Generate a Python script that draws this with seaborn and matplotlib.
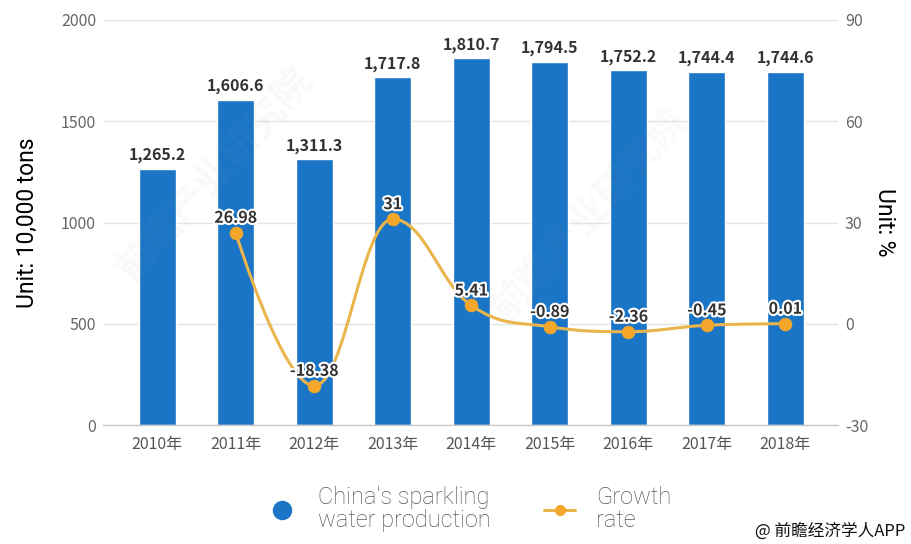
import matplotlib
matplotlib.use("Agg")
import matplotlib.pyplot as plt
from matplotlib.path import Path
from matplotlib.patches import PathPatch
from matplotlib.lines import Line2D
import matplotlib.patheffects as pe
import numpy as np
import pandas as pd
import seaborn as sns

# ---- data ----
years = ["2010年", "2011年", "2012年", "2013年", "2014年", "2015年", "2016年", "2017年", "2018年"]
production = [1265.2, 1606.6, 1311.3, 1717.8, 1810.7, 1794.5, 1752.2, 1744.4, 1744.6]
growth_years = ["2011年", "2012年", "2013年", "2014年", "2015年", "2016年", "2017年", "2018年"]
growth = [26.98, -18.38, 31, 5.41, -0.89, -2.36, -0.45, 0.01]
left_ticks = [0, 500, 1000, 1500, 2000]
right_ticks = [-30, 0, 30, 60, 90]

BAR_BLUE = "#1a75c6"
LINE_GOLD = "#eab54c"
MARK_ORANGE = "#f4a72a"
CJK = ["Noto Sans CJK SC", "DejaVu Sans"]
ROBOTO = ["Roboto", "DejaVu Sans"]

sns.set_theme(style="white")
plt.rcParams["font.family"] = CJK

fig = plt.figure(figsize=(9.12, 5.44), dpi=100)
ax = fig.add_axes([103 / 912, 119 / 544, 735 / 912, 405 / 544])

df = pd.DataFrame({"year": years, "production": production})
sns.barplot(data=df, x="year", y="production", color=BAR_BLUE, width=0.47,
            saturation=1, ax=ax, zorder=2)

ax.set_ylim(0, 2000)
ax.set_xlim(-0.69, 8.67)
ax.set_yticks(left_ticks)
ax.set_yticklabels([str(t) for t in left_ticks])
ax.yaxis.grid(True, color="#e4e4e4", linewidth=1.0, zorder=0)
ax.set_axisbelow(True)
for s in ("top", "left", "right"):
    ax.spines[s].set_visible(False)
ax.spines["bottom"].set_color("#c8c8c8")
ax.spines["bottom"].set_linewidth(1.0)
ax.tick_params(axis="x", colors="#c8c8c8", length=6, width=1, direction="out",
               labelcolor="#555555", labelsize=11.5, pad=2)
ax.tick_params(axis="y", length=0, labelcolor="#666666", labelsize=11.5, pad=5)
ax.set_xlabel("")
ax.set_ylabel("Unit: 10,000 tons", fontsize=16.5, color="#000000",
              family=ROBOTO, fontweight="normal", labelpad=16)

# value labels above bars
for i, v in enumerate(production):
    ax.annotate(f"{v:,.1f}", (i, v), xytext=(0, 4), textcoords="offset points",
                ha="center", va="bottom", fontsize=11.5, fontweight="bold",
                color="#333333", zorder=5)

# ---- growth rate on the secondary axis ----
ax2 = ax.twinx()
ax2.set_ylim(-30, 90)
ax2.set_yticks(right_ticks)
ax2.set_yticklabels([str(t) for t in right_ticks])
for s in ("top", "left", "right", "bottom"):
    ax2.spines[s].set_visible(False)
ax2.tick_params(axis="y", length=0, labelcolor="#666666", labelsize=11.5, pad=5)
ax2.set_ylabel("Unit: %", fontsize=16.5, color="#000000", rotation=270,
               family=ROBOTO, fontweight="normal", labelpad=20)

gx = [years.index(y) for y in growth_years]


def spline_path(xs, ys, smoothing=1.5):
    """Cubic Bezier path through the points with flattened extrema."""
    n = len(xs)
    left, right = [None] * n, [None] * n
    for i in range(n):
        x, y = xs[i], ys[i]
        if 0 < i < n - 1:
            lx, ly = xs[i - 1], ys[i - 1]
            nx, ny = xs[i + 1], ys[i + 1]
            d = smoothing + 1
            lcx, lcy = (smoothing * x + lx) / d, (smoothing * y + ly) / d
            rcx, rcy = (smoothing * x + nx) / d, (smoothing * y + ny) / d
            corr = ((rcy - lcy) * (rcx - x)) / (rcx - lcx) + y - rcy
            lcy += corr
            rcy += corr
            if lcy > ly and lcy > y:
                lcy = max(ly, y); rcy = 2 * y - lcy
            elif lcy < ly and lcy < y:
                lcy = min(ly, y); rcy = 2 * y - lcy
            if rcy > ny and rcy > y:
                rcy = max(ny, y); lcy = 2 * y - rcy
            elif rcy < ny and rcy < y:
                rcy = min(ny, y); lcy = 2 * y - rcy
            left[i], right[i] = (lcx, lcy), (rcx, rcy)
        else:
            left[i] = right[i] = (x, y)
    verts = [(xs[0], ys[0])]
    codes = [Path.MOVETO]
    for i in range(1, n):
        verts += [right[i - 1], left[i], (xs[i], ys[i])]
        codes += [Path.CURVE4] * 3
    return Path(verts, codes)


ax2.add_patch(PathPatch(spline_path(gx, growth), facecolor="none",
                        edgecolor=LINE_GOLD, linewidth=2.2, zorder=3))
gdf = pd.DataFrame({"x": gx, "growth": growth})
sns.scatterplot(data=gdf, x="x", y="growth", ax=ax2, color=MARK_ORANGE, s=85,
                edgecolor=MARK_ORANGE, linewidth=0.5, zorder=4, legend=False)
ax2.set_xlim(-0.69, 8.67)
ax2.set_xlabel("")

outline = [pe.withStroke(linewidth=3, foreground="white")]
for x, v in zip(gx, growth):
    ax2.annotate(f"{v:g}", (x, v), xytext=(0, 5), textcoords="offset points",
                 ha="center", va="bottom", fontsize=11.5, fontweight="bold",
                 color="#333333", path_effects=outline, zorder=6)

# ---- legend ----
handles = [
    Line2D([], [], linestyle="none", marker="o", markersize=13,
           markerfacecolor=BAR_BLUE, markeredgecolor=BAR_BLUE),
    Line2D([], [], color=LINE_GOLD, linewidth=2.2, marker="o", markersize=7,
           markerfacecolor=MARK_ORANGE, markeredgecolor=MARK_ORANGE),
]
leg = fig.legend(handles, ["China's sparkling\nwater production", "Growth\nrate"],
                 loc="center", bbox_to_anchor=(469 / 912, 1 - 509 / 544), ncol=2,
                 frameon=False, handlelength=1.3, handletextpad=0.9,
                 columnspacing=2.25,
                 prop={"family": ROBOTO, "weight": "light", "size": 17})
for t in leg.get_texts():
    t.set_color("#555555")
    t.set_linespacing(1.0)

# ---- watermark and credit ----
for (wx, wy, a) in [(215 / 912, 1 - 175 / 544, 0.06), (590 / 912, 1 - 215 / 544, 0.05)]:
    fig.text(wx, wy, "前瞻产业研究院", rotation=48, fontsize=28, fontweight="bold",
             color="#9a9a9a", alpha=a, ha="center", va="center", zorder=10)

fig.text(905 / 912, 1 - 531 / 544, "@ 前瞻经济学人APP", ha="right", va="center",
         fontsize=12, color="#111111")

fig.savefig("out.png", dpi=100, facecolor="white")
